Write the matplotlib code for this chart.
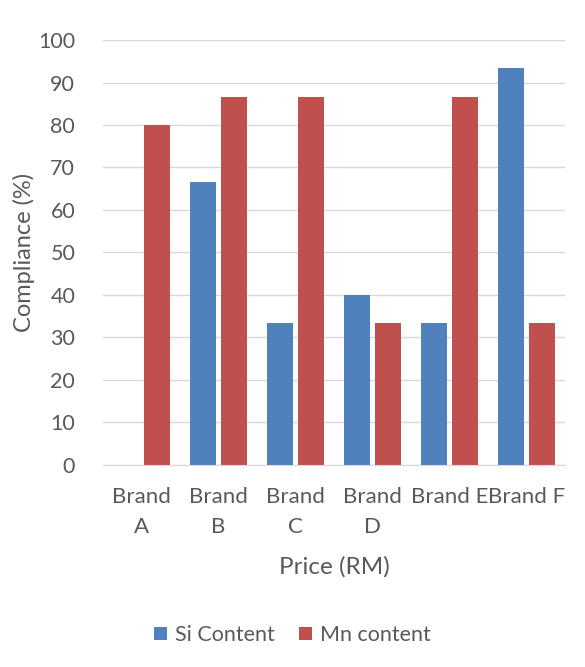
import numpy as np
import matplotlib.pyplot as plt

# Data
brands = ["Brand A", "Brand B", "Brand C", "Brand D", "Brand E", "Brand F"]
tick_labels = ["Brand\nA", "Brand\nB", "Brand\nC", "Brand\nD", "Brand E", "Brand F"]
si_content = [0, 66.7, 33.3, 40, 33.3, 93.3]
mn_content = [80, 86.7, 86.7, 33.3, 86.7, 33.3]

plt.rcParams['font.family'] = ['Lato', 'DejaVu Sans']
text_col = '#595959'

fig = plt.figure(figsize=(5.85, 6.67), dpi=100)
ax = fig.add_axes([0.176, 0.303, 0.790, 0.637])

x = np.arange(len(brands))
w = 0.34
ax.bar(x - 0.2, si_content, w, color='#4F81BD', label='Si Content', zorder=3)
ax.bar(x + 0.2, mn_content, w, color='#C0504D', label='Mn content', zorder=3)

ax.set_xlim(-0.5, len(brands) - 0.5)
ax.set_ylim(0, 100)
ax.set_yticks(range(0, 101, 10))
ax.set_xticks(x)
ax.set_xticklabels(tick_labels, fontsize=16, color=text_col, linespacing=1.6, va='top')
ax.tick_params(axis='y', labelsize=15.5, labelcolor=text_col, length=0, pad=20)
ax.tick_params(axis='x', length=0, pad=16)

ax.grid(axis='y', color='#D9D9D9', linewidth=1, zorder=0)
for s in ['top', 'right', 'left']:
    ax.spines[s].set_visible(False)
ax.spines['bottom'].set_color('#D9D9D9')
ax.spines['bottom'].set_zorder(4)

ax.set_ylabel('Compliance (%)', fontsize=17, color=text_col, labelpad=2)
ax.set_xlabel('Price (RM)', fontsize=17.5, color=text_col, labelpad=14)

fig.legend(loc='center', bbox_to_anchor=(0.5, 0.048), ncol=2, frameon=False,
           fontsize=15.5, labelcolor=text_col, handlelength=0.6, handleheight=0.6,
           columnspacing=1.1, handletextpad=0.4)

fig.savefig('out.png', dpi=100)
